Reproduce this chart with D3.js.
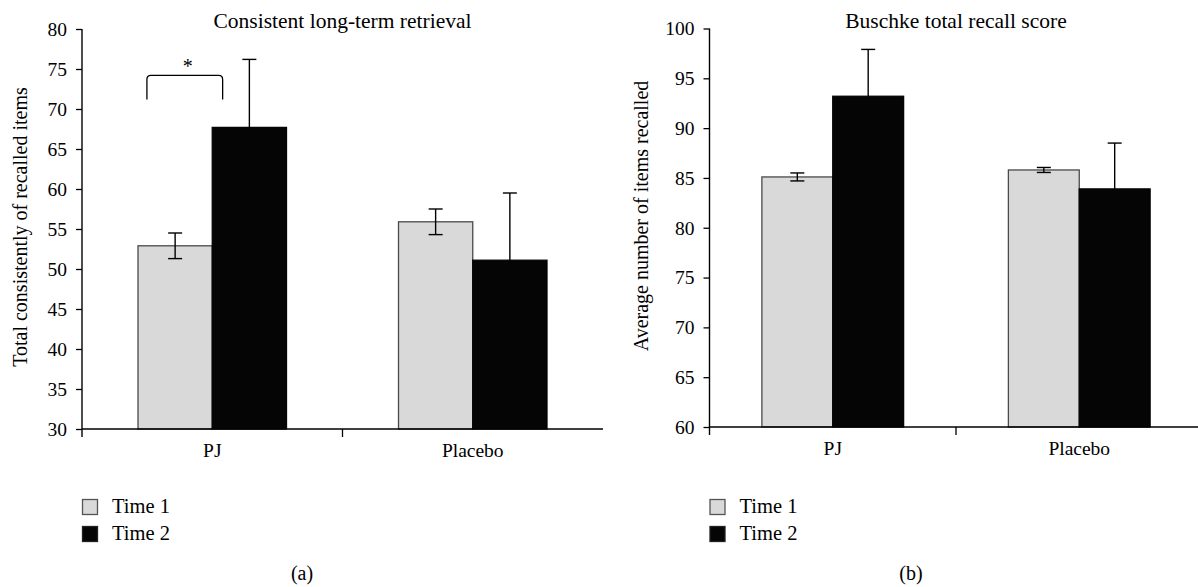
<!DOCTYPE html>
<html>
<head>
<meta charset="utf-8">
<script src="https://cdn.jsdelivr.net/npm/d3@7"></script>
<style>
  body { margin: 0; background: #fff; }
  svg { display: block; font-family: "Liberation Serif", "Times New Roman", serif; }
  .tick text { font-size: 19.5px; fill: #000; font-family: "Liberation Serif", "Times New Roman", serif; }
</style>
</head>
<body>
<svg id="fig" width="1198" height="587"></svg>
<script>
// data
const categories = ["PJ", "Placebo"];
const series = ["Time 1", "Time 2"];
const colors = ["#d9d9d9", "#050505"];

const ltrMeans = [[52.9, 67.7], [55.9, 51.1]];
const ltrErrors = [[1.6, 8.5], [1.6, 8.4]];
const ltrTicks = [30, 35, 40, 45, 50, 55, 60, 65, 70, 75, 80];

const recallMeans = [[85.1, 93.2], [85.8, 83.9]];
const recallErrors = [[0.4, 4.7], [0.25, 4.6]];
const recallTicks = [60, 65, 70, 75, 80, 85, 90, 95, 100];

// bracket over PJ, value levels of the top and leg ends
const sigBracket = { category: "PJ", top: 74.2, leg: 71.2, label: "*" };

const svg = d3.select("#fig");
const serif = "'Liberation Serif', 'Times New Roman', serif";

function drawPanel(p) {
  const g = svg.append("g");

  const y = d3.scaleLinear().domain(p.domain).range([p.bottom, p.top]);
  const x0 = d3.scaleBand().domain(categories).range([p.left, p.right]).padding(0);
  const groupW = x0.bandwidth() * p.groupFrac;
  const x1 = d3.scaleBand().domain(series).range([0, groupW]).padding(0);
  const bw = x1.bandwidth();
  const gx = c => x0(c) + (x0.bandwidth() - groupW) / 2;

  // title
  g.append("text")
    .attr("x", x0(categories[1]))
    .attr("y", 28)
    .attr("text-anchor", "middle")
    .style("font-size", "21.5px")
    .text(p.title);

  // bars
  const rows = [];
  categories.forEach((c, i) => series.forEach((s, j) => {
    rows.push({ c: c, s: s, j: j, v: p.means[i][j], e: p.errors[i][j] });
  }));

  g.selectAll("rect.bar")
    .data(rows)
    .enter().append("rect")
    .attr("class", "bar")
    .attr("x", d => gx(d.c) + x1(d.s))
    .attr("y", d => y(d.v))
    .attr("width", bw)
    .attr("height", d => y(p.domain[0]) - y(d.v))
    .attr("fill", d => colors[d.j])
    .attr("stroke", d => d.j == 0 ? "#4a4a4a" : "#050505")
    .attr("stroke-width", 1.3);

  // error bars (lower whisker of the dark bars is hidden in the bar)
  const err = g.selectAll("g.err")
    .data(rows)
    .enter().append("g")
    .attr("class", "err")
    .attr("stroke", "#000")
    .attr("stroke-width", 1.4);
  const cx = d => gx(d.c) + x1(d.s) + bw / 2;
  const lo = d => d.j == 0 ? d.v - d.e : d.v;
  err.append("line")
    .attr("x1", cx).attr("x2", cx)
    .attr("y1", d => y(d.v + d.e)).attr("y2", d => y(lo(d)));
  err.append("line")
    .attr("x1", d => cx(d) - 7).attr("x2", d => cx(d) + 7)
    .attr("y1", d => y(d.v + d.e)).attr("y2", d => y(d.v + d.e));
  err.filter(d => d.j == 0).append("line")
    .attr("x1", d => cx(d) - 7).attr("x2", d => cx(d) + 7)
    .attr("y1", d => y(d.v - d.e)).attr("y2", d => y(d.v - d.e));

  // y axis
  const ya = g.append("g")
    .attr("transform", "translate(" + p.left + ",0)")
    .call(d3.axisLeft(y).tickValues(p.ticks).tickSize(6).tickPadding(9).tickSizeOuter(0))
    .attr("font-family", serif);
  ya.select(".domain").remove();
  ya.selectAll(".tick line").attr("stroke-width", 1.3);
  g.append("line")
    .attr("x1", p.left).attr("x2", p.left)
    .attr("y1", y(p.domain[1])).attr("y2", y(p.domain[0]) + 8)
    .attr("stroke", "#000").attr("stroke-width", 1.4);

  // x axis
  const xa = g.append("g")
    .attr("transform", "translate(0," + y(p.domain[0]) + ")")
    .call(d3.axisBottom(x0).tickSize(0).tickPadding(14))
    .attr("font-family", serif);
  xa.select(".domain").remove();
  g.append("line")
    .attr("x1", p.left).attr("x2", p.right)
    .attr("y1", y(p.domain[0])).attr("y2", y(p.domain[0]))
    .attr("stroke", "#000").attr("stroke-width", 1.4);
  g.selectAll("line.sep")
    .data(categories.slice(1))
    .enter().append("line")
    .attr("class", "sep")
    .attr("x1", d => x0(d)).attr("x2", d => x0(d))
    .attr("y1", y(p.domain[0])).attr("y2", y(p.domain[0]) + 8)
    .attr("stroke", "#000").attr("stroke-width", 1.3);

  // y label
  g.append("text")
    .attr("transform", "translate(" + p.labelX + "," + p.labelY + ") rotate(-90)")
    .attr("text-anchor", "middle")
    .style("font-size", "20px")
    .text(p.yLabel);

  // significance bracket
  if (p.sig) {
    const bx = gx(p.sig.category);
    const xl = bx + bw * 0.12, xr = bx + bw + bw * 0.14;
    const yt = y(p.sig.top), yl = y(p.sig.leg), r = 4;
    g.append("path")
      .attr("d", "M" + xl + "," + yl + "L" + xl + "," + (yt + r) +
        "Q" + xl + "," + yt + " " + (xl + r) + "," + yt +
        "L" + (xr - r) + "," + yt +
        "Q" + xr + "," + yt + " " + xr + "," + (yt + r) +
        "L" + xr + "," + yl)
      .attr("fill", "none").attr("stroke", "#000").attr("stroke-width", 1.3);
    g.append("text")
      .attr("x", (xl + xr) / 2 + 3)
      .attr("y", yt - 2)
      .attr("text-anchor", "middle")
      .style("font-size", "20px")
      .text(p.sig.label);
  }

  // legend
  const lg = g.selectAll("g.leg")
    .data(series)
    .enter().append("g")
    .attr("class", "leg")
    .attr("transform", (d, i) => "translate(" + p.left + "," + (499 + i * 27) + ")");
  lg.append("rect")
    .attr("x", 0.5).attr("y", 0.5)
    .attr("width", 15).attr("height", 15)
    .attr("fill", (d, i) => colors[i])
    .attr("stroke", (d, i) => i == 0 ? "#555" : "#222")
    .attr("stroke-width", 1.3);
  lg.append("text")
    .attr("x", 30).attr("y", 14)
    .style("font-size", "20.5px")
    .text(d => d);

  // panel letter
  g.append("text")
    .attr("x", p.letterX).attr("y", 580)
    .attr("text-anchor", "middle")
    .style("font-size", "20px")
    .text(p.letter);
}

drawPanel({
  title: "Consistent long-term retrieval",
  yLabel: "Total consistently of recalled items",
  domain: [30, 80], ticks: ltrTicks,
  means: ltrMeans, errors: ltrErrors,
  left: 82, right: 603, top: 29, bottom: 429,
  groupFrac: 0.57, labelX: 27, labelY: 227,
  sig: sigBracket, letter: "(a)", letterX: 302
});

drawPanel({
  title: "Buschke total recall score",
  yLabel: "Average number of items recalled",
  domain: [60, 100], ticks: recallTicks,
  means: recallMeans, errors: recallErrors,
  left: 709.5, right: 1202.5, top: 28.5, bottom: 427,
  groupFrac: 0.575, labelX: 648, labelY: 216,
  sig: null, letter: "(b)", letterX: 911
});
</script>
</body>
</html>
